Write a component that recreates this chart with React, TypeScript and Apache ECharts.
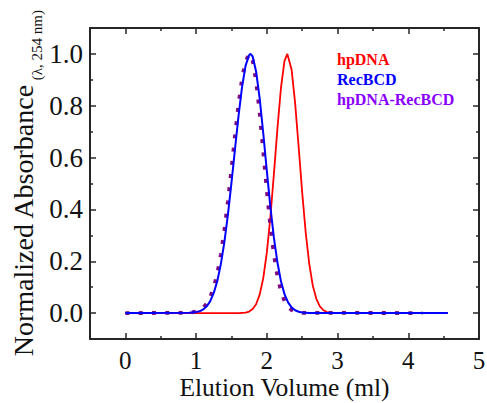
import React, { useEffect, useRef } from "react";
import * as echarts from "echarts";

// Elution volume (ml) and normalized absorbance
const redX = [0, 1.6, 1.7, 1.75, 1.8, 1.85, 1.9, 1.95, 2.0, 2.05, 2.1, 2.15, 2.2, 2.25, 2.29, 2.35, 2.4, 2.45, 2.5, 2.55, 2.6, 2.65, 2.7, 2.75, 2.8, 2.85, 2.9, 3.0, 4.56];
const redY = [0, 0, 0.002, 0.006, 0.016, 0.035, 0.072, 0.135, 0.233, 0.369, 0.536, 0.712, 0.869, 0.973, 1.0, 0.94, 0.811, 0.642, 0.466, 0.31, 0.19, 0.106, 0.055, 0.026, 0.011, 0.004, 0.002, 0, 0];

const blueX = [0, 0.9, 1.0, 1.05, 1.1, 1.15, 1.2, 1.25, 1.3, 1.35, 1.4, 1.45, 1.5, 1.55, 1.6, 1.65, 1.7, 1.75, 1.77, 1.8, 1.85, 1.9, 1.95, 2.0, 2.05, 2.1, 2.15, 2.2, 2.25, 2.3, 2.35, 2.4, 2.45, 2.5, 2.6, 4.56];
const blueY = [0, 0.001, 0.004, 0.007, 0.014, 0.026, 0.046, 0.078, 0.124, 0.189, 0.274, 0.38, 0.502, 0.633, 0.761, 0.873, 0.955, 0.996, 1.0, 0.99, 0.93, 0.826, 0.693, 0.549, 0.411, 0.291, 0.195, 0.123, 0.073, 0.041, 0.022, 0.011, 0.005, 0.002, 0, 0];

const purpleX = [0, 0.9, 1.0, 1.05, 1.1, 1.15, 1.2, 1.25, 1.3, 1.35, 1.4, 1.45, 1.5, 1.55, 1.6, 1.65, 1.7, 1.755, 1.8, 1.85, 1.9, 1.95, 2.0, 2.05, 2.1, 2.15, 2.2, 2.25, 2.3, 2.35, 2.4, 2.5, 4.2];
const purpleY = [0, 0.001, 0.006, 0.011, 0.021, 0.036, 0.062, 0.099, 0.153, 0.226, 0.32, 0.431, 0.555, 0.684, 0.805, 0.905, 0.973, 1.0, 0.975, 0.893, 0.769, 0.622, 0.472, 0.337, 0.226, 0.142, 0.084, 0.047, 0.024, 0.012, 0.006, 0.001, 0];

const seriesNames = ["hpDNA", "RecBCD", "hpDNA-RecBCD"];
const xMajor = [0, 1, 2, 3, 4, 5];
const xMinor = [0.5, 1.5, 2.5, 3.5, 4.5];
const yMajor = [0, 0.2, 0.4, 0.6, 0.8, 1.0];
const yMinor = [0.1, 0.3, 0.5, 0.7, 0.9];

const FONT = "'Liberation Serif', 'Times New Roman', serif";
const AX = "#262626";

const zip = (xs: number[], ys: number[]) => xs.map((x, i) => [x, ys[i]]);

export default function App() {
  const ref = useRef<HTMLDivElement>(null);
  useEffect(() => {
    if (!ref.current) return;
    const chart = echarts.init(ref.current, null, { renderer: "svg" });
    const baseX = {
      type: "value" as const,
      min: -0.5,
      max: 5,
      splitLine: { show: false },
    };
    const baseY = {
      type: "value" as const,
      min: -0.1,
      max: 1.1,
      splitLine: { show: false },
    };
    const line = { show: true, onZero: false, lineStyle: { color: AX, width: 2 } };
    const noLine = { show: false, onZero: false };
    const tick = (vals: number[], len: number) => ({
      show: true,
      inside: true,
      length: len,
      customValues: vals,
      lineStyle: { color: AX, width: 1.5 },
    });
    chart.setOption({
      animation: false,
      backgroundColor: "#ffffff",
      grid: { left: 90, right: 8, top: 28, bottom: 64, containLabel: false, outerBoundsMode: "none" },
      xAxis: [
        {
          ...baseX,
          position: "bottom",
          axisLine: line,
          axisTick: tick(xMajor, 6),
          axisLabel: {
            customValues: xMajor,
            fontSize: 25,
            color: "#111",
            fontFamily: FONT,
            margin: 9,
          },
          name: "Elution Volume (ml)",
          nameLocation: "middle",
          nameGap: 35,
          nameMoveOverlap: false,
          nameTextStyle: { fontSize: 25.5, color: "#111", fontFamily: FONT },
        },
        { ...baseX, position: "bottom", axisLine: noLine, axisTick: tick(xMinor, 3), axisLabel: { show: false } },
        { ...baseX, position: "top", axisLine: line, axisTick: tick(xMajor, 6), axisLabel: { show: false } },
        { ...baseX, position: "top", axisLine: noLine, axisTick: tick(xMinor, 3), axisLabel: { show: false } },
      ],
      yAxis: [
        {
          ...baseY,
          position: "left",
          axisLine: line,
          axisTick: tick(yMajor, 6),
          axisLabel: {
            customValues: yMajor,
            formatter: (v: number) => v.toFixed(1),
            fontSize: 27,
            color: "#111",
            fontFamily: FONT,
            margin: 7,
          },
          name: "{a|Normalized Absorbance}{b|(λ, 254 nm)}",
          nameLocation: "middle",
          nameGap: 46,
          nameMoveOverlap: false,
          nameTextStyle: {
            color: "#111",
            fontFamily: FONT,
            rich: {
              a: { fontSize: 28, fontFamily: FONT, color: "#111" },
              b: { fontSize: 15, fontFamily: FONT, color: "#111", padding: [27, 0, 0, 4] },
            },
          },
        },
        { ...baseY, position: "left", axisLine: noLine, axisTick: tick(yMinor, 3), axisLabel: { show: false } },
        { ...baseY, position: "right", axisLine: line, axisTick: tick(yMajor, 6), axisLabel: { show: false } },
        { ...baseY, position: "right", axisLine: noLine, axisTick: tick(yMinor, 3), axisLabel: { show: false } },
      ],
      series: [
        {
          name: seriesNames[0],
          type: "line",
          data: zip(redX, redY),
          showSymbol: false,
          lineStyle: { color: "#ff0000", width: 1.8 },
          z: 2,
        },
        {
          name: seriesNames[2],
          type: "line",
          data: zip(purpleX, purpleY),
          showSymbol: false,
          lineStyle: { color: "#7d0c80", width: 3.8, type: [4, 9.3], cap: "butt" },
          z: 3,
        },
        {
          name: seriesNames[1],
          type: "line",
          data: zip(blueX, blueY),
          showSymbol: false,
          lineStyle: { color: "#0000ff", width: 2 },
          z: 4,
        },
      ],
      graphic: [
        {
          type: "text",
          left: 337,
          top: 51,
          style: { text: seriesNames[0], fill: "#ff0000", font: `bold 16px ${FONT}` },
        },
        {
          type: "text",
          left: 337,
          top: 71,
          style: { text: seriesNames[1], fill: "#0000ff", font: `bold 16px ${FONT}` },
        },
        {
          type: "text",
          left: 337,
          top: 91,
          style: { text: seriesNames[2], fill: "#8a00ff", font: `bold 16px ${FONT}` },
        },
      ],
    });
    return () => chart.dispose();
  }, []);
  return (
    <div
      ref={ref}
      style={{ position: "fixed", left: 0, top: 0, width: 487, height: 403 }}
    />
  );
}
